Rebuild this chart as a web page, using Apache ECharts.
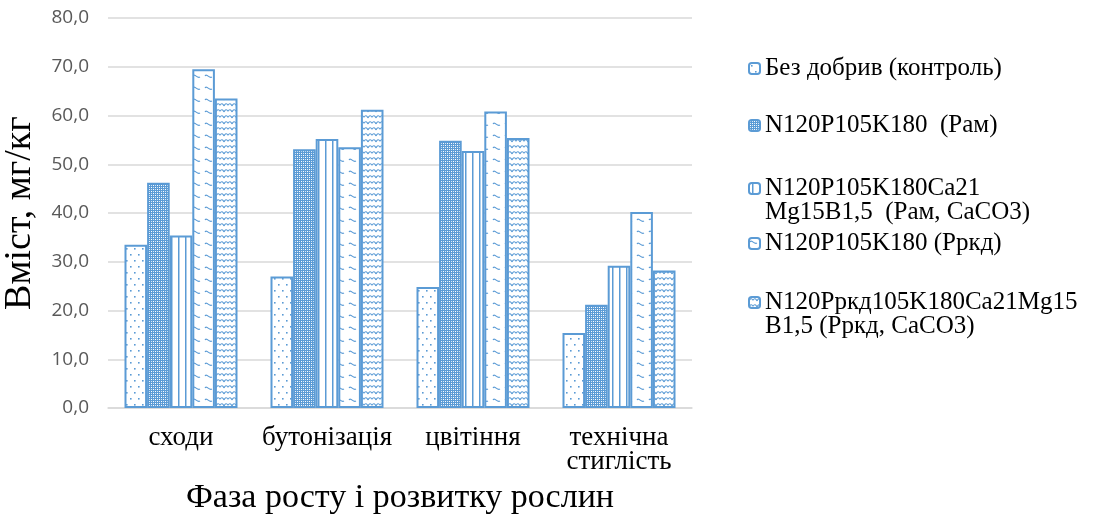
<!DOCTYPE html>
<html><head><meta charset="utf-8">
<script src="https://cdn.jsdelivr.net/npm/echarts@6/dist/echarts.min.js"></script>
<style>html,body{margin:0;padding:0;background:#fff}#c{width:1093px;height:518px}</style>
</head><body><div id="c"></div>
<script>
const categories = ['сходи', 'бутонізація', 'цвітіння', 'технічна\nстиглість'];
const seriesNames = [
  'Без добрив (контроль)',
  'N120P105K180  (Рам)',
  'N120P105K180Ca21 Mg15B1,5  (Рам, CaCO3)',
  'N120P105K180 (Рркд)',
  'N120Рркд105K180Ca21Mg15 B1,5 (Рркд, CaCO3)'
];
const legendLabels = [
  'Без добрив (контроль)',
  'N120P105K180  (Рам)',
  'N120P105K180Ca21\nMg15B1,5  (Рам, CaCO3)',
  'N120P105K180 (Рркд)',
  'N120Рркд105K180Ca21Mg15\nB1,5 (Рркд, CaCO3)'
];
const valuesControl = [33.5, 27.0, 24.8, 15.4];
const valuesRam = [46.2, 53.1, 54.8, 21.2];
const valuesRamCa = [35.4, 55.2, 52.7, 29.2];
const valuesRrkd = [69.5, 53.5, 60.8, 40.2];
const valuesRrkdCa = [63.5, 61.2, 55.4, 28.2];
const yTicks = [0, 10, 20, 30, 40, 50, 60, 70, 80];
const yTitle = 'Вміст, мг/кг';
const xTitle = 'Фаза росту і розвитку рослин';

const BLUE = '#5B9BD5';
function mk(w, h, draw) {
  const c = document.createElement('canvas');
  c.width = w; c.height = h;
  const g = c.getContext('2d');
  g.fillStyle = '#fff'; g.fillRect(0, 0, w, h);
  g.fillStyle = BLUE; g.strokeStyle = BLUE;
  draw(g);
  return { image: c, repeat: 'repeat' };
}
const patDots = mk(8, 12, g => { g.fillRect(2, 2, 1.6, 1.6); g.fillRect(6, 8, 1.6, 1.6); });
const patMesh = mk(4, 4, g => { g.fillRect(0, 0, 4, 4); g.fillStyle = '#fff'; g.fillRect(1, 1, 1, 1); g.fillRect(3, 3, 1, 1); g.fillStyle='#d6e6f5'; g.fillRect(3,1,1,1); g.fillRect(1,3,1,1); });
const patVert = mk(7, 4, g => { g.fillRect(3, 0, 1.5, 4); });
const patWaveDash = mk(12, 12, g => { g.lineWidth = 1.1; g.beginPath(); g.moveTo(1, 4); g.bezierCurveTo(3, 1, 5, 7, 8, 5); g.stroke(); });
const patWave = mk(8, 6, g => { g.lineWidth = 1.1; g.beginPath(); g.moveTo(0, 4); g.quadraticCurveTo(2, 0, 4, 3); g.quadraticCurveTo(6, 0, 8, 4); g.stroke(); });
const patterns = [patDots, patMesh, patVert, patWaveDash, patWave];
const allValues = [valuesControl, valuesRam, valuesRamCa, valuesRrkd, valuesRrkdCa];

const chart = echarts.init(document.getElementById('c'), null, { renderer: 'canvas' });
const serif = '"Liberation Serif", "DejaVu Serif", serif';
const LH = 24;
const legendCenters = [68, 125, 188, 243, 302];
const legends = seriesNames.map((n, i) => {
  const multi = legendLabels[i].indexOf('\n') >= 0;
  const label = multi ? ' \n' + legendLabels[i] : legendLabels[i];
  const boxH = multi ? LH * 3 : LH;
  return {
    orient: 'vertical', left: 748, top: legendCenters[i] - boxH / 2,
    padding: 0,
    itemWidth: 11, itemHeight: 11, itemGap: 0,
    data: [{ name: n }],
    formatter: () => label,
    textStyle: { fontFamily: serif, fontSize: 25, lineHeight: LH, color: '#000' },
    selectedMode: false
  };
});
chart.setOption({
  animation: false,
  backgroundColor: '#fff',
  grid: { left: 108, right: 401, top: 18, bottom: 110, containLabel: false, outerBoundsMode: 'none' },
  legend: legends,
  xAxis: {
    type: 'category', data: categories,
    axisLine: { show: true, lineStyle: { color: '#d9d9d9', width: 1.5 } },
    axisTick: { show: false },
    axisLabel: { interval: 0, hideOverlap: false, fontFamily: serif, fontSize: 27, lineHeight: 24, color: '#000', margin: 18 },
    name: xTitle, nameLocation: 'middle', nameGap: 73,
    nameTextStyle: { fontFamily: serif, fontSize: 34, color: '#000' }
  },
  yAxis: {
    type: 'value', min: yTicks[0], max: yTicks[yTicks.length - 1], interval: 10,
    axisLine: { show: false }, axisTick: { show: false },
    splitLine: { lineStyle: { color: '#d9d9d9', width: 1.5 } },
    axisLabel: { fontFamily: '"Open Sans", sans-serif', fontSize: 19, color: '#595959', margin: 19,
      formatter: v => v.toFixed(1).replace('.', ',') },
    name: yTitle, nameLocation: 'middle', nameGap: 69, nameRotate: 90,
    nameTextStyle: { fontFamily: serif, fontSize: 38, color: '#000' }
  },
  series: seriesNames.map((n, i) => ({
    name: n, type: 'bar', data: allValues[i],
    barGap: '0%', barCategoryGap: '22.6%',
    itemStyle: { color: patterns[i], borderColor: BLUE, borderWidth: 2 }
  }))
});
</script></body></html>
